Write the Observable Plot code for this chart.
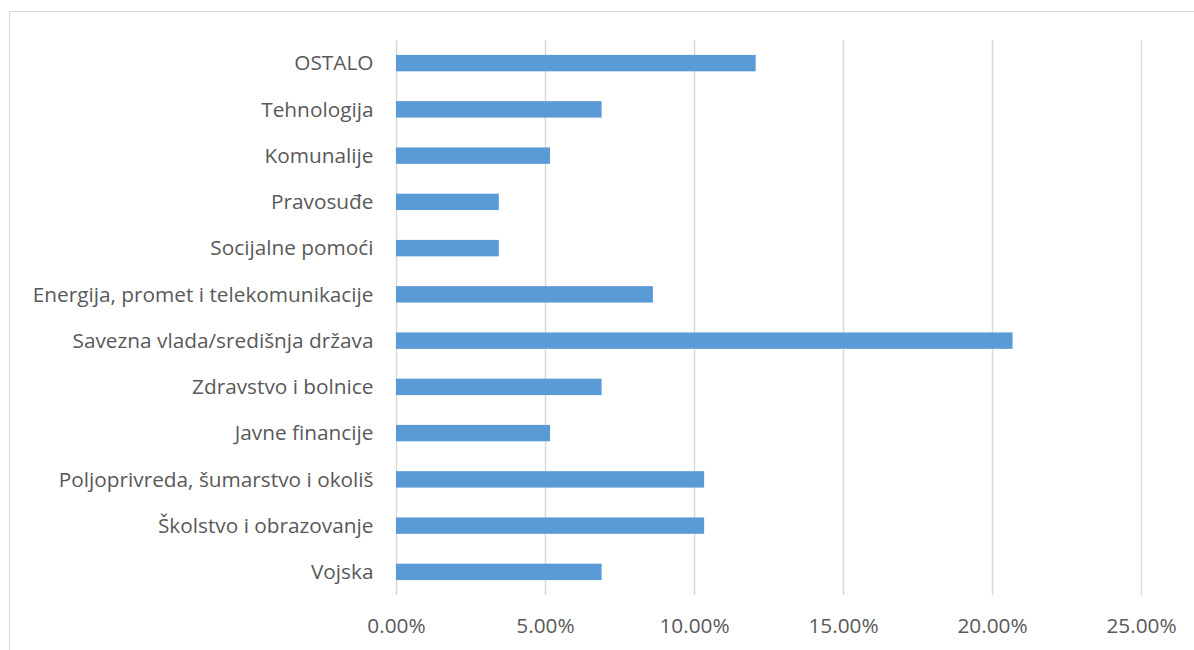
<!DOCTYPE html>
<html>
<head>
<meta charset="utf-8">
<script src="https://cdn.jsdelivr.net/npm/d3@7"></script>
<script src="https://cdn.jsdelivr.net/npm/@observablehq/plot@0.6"></script>
<style>
  html, body { margin: 0; padding: 0; background: #fff; overflow: hidden; width: 1194px; height: 650px; }
  #wrap { position: relative; width: 1194px; height: 650px; }
  #frame { position: absolute; left: 9px; top: 11px; width: 1400px; height: 900px; border: 1px solid #d9d9d9; box-sizing: border-box; pointer-events: none; }
  #chart { position: absolute; left: 0; top: 0; }
</style>
</head>
<body>
<div id="wrap"><div id="frame"></div><div id="chart"></div></div>
<script>
const categories = [
  "OSTALO",
  "Tehnologija",
  "Komunalije",
  "Pravosuđe",
  "Socijalne pomoći",
  "Energija, promet i telekomunikacije",
  "Savezna vlada/središnja država",
  "Zdravstvo i bolnice",
  "Javne financije",
  "Poljoprivreda, šumarstvo i okoliš",
  "Školstvo i obrazovanje",
  "Vojska"
];
const shares = [0.1207, 0.0690, 0.0517, 0.0345, 0.0345, 0.0862, 0.2069, 0.0690, 0.0517, 0.1034, 0.1034, 0.0690];
const xTicks = [0, 0.05, 0.10, 0.15, 0.20, 0.25];

const data = categories.map((c, i) => ({category: c, value: shares[i]}));
const pct = d => (d * 100).toFixed(2) + "%";

const chart = Plot.plot({
  width: 1194,
  height: 650,
  marginLeft: 396,
  marginRight: 53,
  marginTop: 40,
  marginBottom: 55,
  style: {fontFamily: "'Open Sans', sans-serif", fontSize: "20.8px", color: "#595959", background: "transparent"},
  x: {domain: [0, 0.25], ticks: xTicks, tickFormat: pct, label: null},
  y: {domain: categories, paddingInner: 0.645, paddingOuter: 0.3225, round: false, label: null},
  marks: [
    Plot.gridX(xTicks, {stroke: "#d9d9d9", strokeOpacity: 1, strokeWidth: 1.5}),
    Plot.barX(data, {x: "value", y: "category", fill: "#5b9bd5"}),
    Plot.axisX({ticks: xTicks, tickSize: 0, tickPadding: 23, tickFormat: pct, fill: "#595959", label: null}),
    Plot.axisY({tickSize: 0, tickPadding: 23, fill: "#595959", label: null})
  ]
});
document.getElementById("chart").appendChild(chart);
</script>
</body>
</html>
